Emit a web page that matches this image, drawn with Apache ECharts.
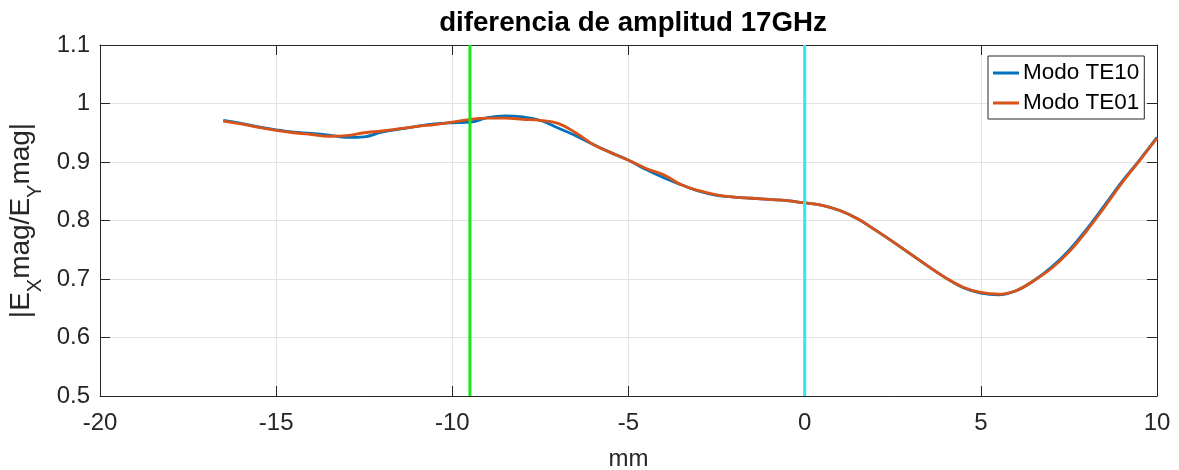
<!DOCTYPE html>
<html>
<head>
<meta charset="utf-8">
<script src="https://cdn.jsdelivr.net/npm/echarts@6/dist/echarts.min.js"></script>
<style>html,body{margin:0;padding:0;background:#fff;}#c{width:1179px;height:470px;}</style>
</head>
<body>
<div id="c"></div>
<script>
const titleText = 'diferencia de amplitud 17GHz';
const xName = 'mm';
const seriesNames = ['Modo TE10', 'Modo TE01'];
const xs = [-16.5,-16,-15.5,-15,-14.5,-14,-13.5,-13,-12.5,-12,-11.5,-11,-10.5,-10,-9.5,-9,-8.5,-8,-7.5,-7,-6.5,-6,-5.5,-5,-4.5,-4,-3.5,-3,-2.5,-2,-1.5,-1,-0.5,0,0.5,1,1.5,2,2.5,3,3.5,4,4.5,5,5.5,6,6.5,7,7.5,8,8.5,9,9.5,10];
const te10 = [0.971,0.966,0.960,0.955,0.951,0.949,0.946,0.942,0.943,0.951,0.956,0.961,0.965,0.967,0.968,0.976,0.979,0.977,0.971,0.958,0.945,0.930,0.916,0.903,0.887,0.873,0.861,0.850,0.843,0.840,0.838,0.836,0.834,0.830,0.826,0.817,0.803,0.784,0.764,0.743,0.722,0.702,0.685,0.676,0.673,0.680,0.697,0.720,0.749,0.785,0.825,0.866,0.903,0.942];
const te01 = [0.970,0.965,0.959,0.954,0.950,0.947,0.944,0.945,0.950,0.953,0.957,0.961,0.964,0.968,0.973,0.975,0.975,0.973,0.971,0.966,0.950,0.930,0.916,0.903,0.889,0.878,0.861,0.851,0.844,0.840,0.838,0.836,0.834,0.830,0.826,0.817,0.803,0.784,0.764,0.743,0.722,0.702,0.686,0.677,0.674,0.680,0.697,0.718,0.746,0.782,0.822,0.864,0.902,0.941];
const vLines = [-9.5, 0];
const vColors = ['#19e619', '#2ee8f2'];

const chart = echarts.init(document.getElementById('c'));
const axisCol = '#262626';
const font = 'Liberation Sans, Arial, sans-serif';
function pairs(x, y){ return x.map((v,i)=>[v,y[i]]); }
const commonX = {
  type:'value', min:-20, max:10, interval:5,
  axisLine:{show:true, onZero:false, lineStyle:{color:axisCol,width:1}},
  axisTick:{show:true, inside:true, length:10, lineStyle:{color:axisCol}},
  splitLine:{show:false}
};
const commonY = {
  type:'value', min:0.5, max:1.1, interval:0.1,
  axisLine:{show:true, onZero:false, lineStyle:{color:axisCol,width:1}},
  axisTick:{show:true, inside:true, length:10, lineStyle:{color:axisCol}},
  splitLine:{show:false}
};
const series = [
  {name:seriesNames[0], type:'line', data:pairs(xs,te10), showSymbol:false, smooth:0.4, lineStyle:{color:'#0072BD', width:2.8}, itemStyle:{color:'#0072BD'}, z:3},
  {name:seriesNames[1], type:'line', data:pairs(xs,te01), showSymbol:false, smooth:0.4, lineStyle:{color:'#D95319', width:2.8}, itemStyle:{color:'#D95319'}, z:4}
];
vLines.forEach((v,i)=>{
  series.push({name:'v'+i, type:'line', data:[[v,0.5],[v,1.1]], showSymbol:false, lineStyle:{color:vColors[i], width:3}, z:5, silent:true});
});
chart.setOption({
  animation:false,
  backgroundColor:'#fff',
  title:{text:titleText, left:628, textAlign:'center', top:4, textStyle:{fontFamily:font, fontWeight:'bold', fontSize:27.7, color:'#000'}},
  grid:{left:100, top:45, width:1057, height:351, containLabel:false, outerBoundsMode:'none'},
  legend:{
    data:seriesNames, orient:'vertical', left:988, top:56,
    icon:'rect', itemWidth:26, itemHeight:3, itemGap:6,
    padding:[5,5,4,5], borderColor:axisCol, borderWidth:1, backgroundColor:'#fff',
    textStyle:{fontFamily:font, fontSize:22.5, color:'#000', lineHeight:24, padding:[0,0,0,-1]}
  },
  xAxis:[
    Object.assign({}, commonX, {position:'bottom', name:xName, nameLocation:'middle', nameGap:51,
      nameTextStyle:{fontFamily:font, fontSize:24, color:axisCol},
      splitLine:{show:true, lineStyle:{color:'#e3e3e3', width:1}},
      axisLabel:{fontFamily:font, fontSize:24, color:axisCol, margin:15}}),
    Object.assign({}, commonX, {position:'top', axisLabel:{show:false}})
  ],
  yAxis:[
    Object.assign({}, commonY, {position:'left', name:'|E{s|X}mag/E{s|Y}mag|', nameLocation:'middle', nameGap:48,
      nameTextStyle:{fontFamily:font, fontSize:28, color:axisCol, lineHeight:48,
        rich:{s:{fontFamily:font, fontSize:20, color:axisCol, verticalAlign:'bottom', lineHeight:20}}},
      splitLine:{show:true, lineStyle:{color:'#e3e3e3', width:1}},
      axisLabel:{fontFamily:font, fontSize:24, color:axisCol, margin:10}}),
    Object.assign({}, commonY, {position:'right', axisLabel:{show:false}})
  ],
  series:series
});
</script>
</body>
</html>
